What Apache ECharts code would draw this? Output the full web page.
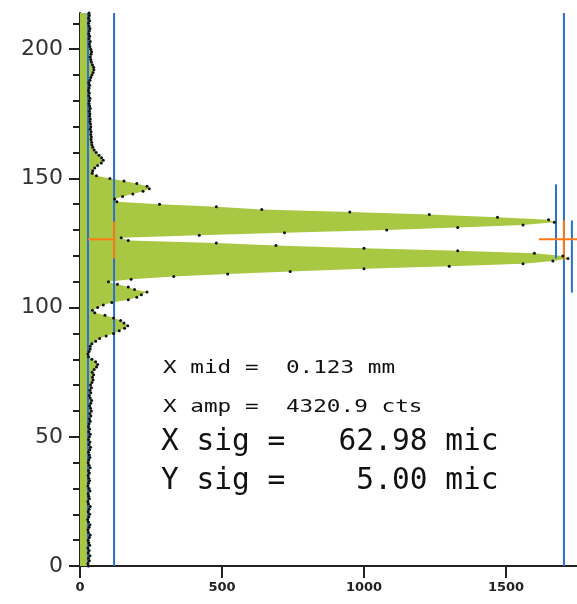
<!DOCTYPE html>
<html><head><meta charset="utf-8">
<script src="https://cdn.jsdelivr.net/npm/echarts@6/dist/echarts.min.js"></script>
<style>html,body{margin:0;padding:0;background:#fff}#c{width:577px;height:604px}</style>
</head><body><div id="c"></div>
<script>
// sample positions (y) of the profile
const profileY = [0,1,2,3,4,5,6,7,8,9,10,11,12,13,14,15,16,17,18,19,20,21,22,23,24,25,26,27,28,29,30,31,32,33,34,35,36,37,38,39,40,41,42,43,44,45,46,47,48,49,50,51,52,53,54,55,56,57,58,59,60,61,62,63,64,65,66,67,68,69,70,71,72,73,74,75,76,77,78,79,80,81,82,83,84,85,86,87,88,89,90,91,92,93,94,95,96,97,98,99,100,101,102,103,104,105,106,107,108,109,110,111,112,113,114,115,116,117,118,119,120,121,122,123,124,125,126,127,128,129,130,131,132,133,134,135,136,137,138,139,140,141,142,143,144,145,146,147,148,149,150,151,152,153,154,155,156,157,158,159,160,161,162,163,164,165,166,167,168,169,170,171,172,173,174,175,176,177,178,179,180,181,182,183,184,185,186,187,188,189,190,191,192,193,194,195,196,197,198,199,200,201,202,203,204,205,206,207,208,209,210,211,212,213,214];
// profile counts at each sample
const profileX = [
 30,28,33,30,35,29,32,28,34,31,
 29,33,36,30,28,32,35,30,27,31,
 34,29,32,36,30,28,33,31,29,35,
 32,28,30,34,31,29,33,30,36,32,
 29,31,35,33,30,34,37,32,35,30,
 33,36,31,34,30,32,36,33,38,35,
 40,37,34,38,41,36,33,38,35,40,
 37,42,46,44,48,43,50,58,62,55,
 42,30,28,32,36,36,42,55,69,92,
 118,138,157,168,155,143,118,88,52,44,
 62,82,112,170,200,216,236,192,170,132,
 100,180,330,520,740,1000,1300,1560,1665,1718,
 1700,1600,1330,1000,690,480,170,145,420,720,
 1080,1330,1560,1670,1650,1470,1230,950,640,480,
 280,130,122,150,186,222,244,236,200,155,
 105,58,43,45,52,62,75,82,76,67,
 57,50,45,42,41,39,40,38,39,36,
 38,37,35,36,34,35,33,36,34,32,
 33,35,31,33,30,32,34,31,35,38,
 42,46,49,48,44,40,38,36,39,41,
 38,35,33,36,32,34,31,33,35,32,
 30,34,31,33,32
];
const xTicks = [0, 500, 1000, 1500];
const yTicks = [0, 50, 100, 150, 200];
const blueFullX = [28, 120, 1704];
const blueBars = [[1676, 119, 147.7], [1732, 105.8, 133.7]];   // x, y0, y1
const orangeH = [[28, 120, 126.4], [1616, 1760, 126.4]];      // x0, x1, y
const orangeV = [[120, 119, 133.3], [1704, 118.6, 133.7]];    // x, y0, y1
const statLines = ['X mid =  0.123 mm', 'X amp =  4320.9 cts', 'X sig =   62.98 mic', 'Y sig =    5.00 mic'];

const BLUE = '#2A6ED2', ORANGE = '#FF7A14', GREEN = '#A8C844', AX = '#222';
const seg = (pts, color) => ({type:'line', yAxisIndex:1, data:pts, symbol:'none', silent:true,
  lineStyle:{color:color, width:2}, animation:false});
const series = [{
  type:'line', yAxisIndex:0, data: profileX, symbol:'circle', symbolSize:3, showAllSymbol:true,
  itemStyle:{color:'#111'}, lineStyle:{width:0, opacity:0},
  areaStyle:{color:GREEN, opacity:1}, silent:true, animation:false
}];
blueFullX.forEach(x => series.push(seg([[x,0],[x,214]], BLUE)));
blueBars.forEach(b => series.push(seg([[b[0],b[1]],[b[0],b[2]]], BLUE)));
orangeH.forEach(h => series.push(seg([[h[0],h[2]],[h[1],h[2]]], ORANGE)));
orangeV.forEach(v => series.push(seg([[v[0],v[1]],[v[0],v[2]]], ORANGE)));

const textY = [368, 407, 442, 481];
const chart = echarts.init(document.getElementById('c'), null, {renderer:'canvas'});
chart.setOption({
  animation:false,
  backgroundColor:'#fff',
  grid:{left:80, right:0, top:13, bottom:38, containLabel:false},
  xAxis:{type:'value', min:0, max:1750, interval:500,
    axisLine:{show:true, onZero:false, lineStyle:{color:AX, width:2}},
    axisTick:{show:true, length:12, customValues:xTicks, lineStyle:{color:AX, width:2}},
    axisLabel:{customValues:xTicks, formatter: v => String(v), fontFamily:'DejaVu Sans', fontWeight:'bold', fontSize:13, color:AX, margin:15},
    splitLine:{show:false}},
  yAxis:[
    {type:'category', data: profileY, boundaryGap:false, show:false},
    {type:'value', min:0, max:214, interval:50, position:'left',
     axisLine:{show:true, onZero:false, lineStyle:{color:AX, width:2}},
     axisTick:{show:true, length:11, customValues:yTicks, lineStyle:{color:AX, width:2}},
     minorTick:{show:true, splitNumber:5, length:7, lineStyle:{color:AX, width:2}},
     axisLabel:{customValues:yTicks, formatter: v => String(v), fontFamily:'DejaVu Sans', fontSize:22, color:'#333', margin:17},
     splitLine:{show:false}, minorSplitLine:{show:false}}
  ],
  series: series,
  graphic: statLines.map((t, i) => ({
    type:'text', x: i < 2 ? 163 : 161, y: textY[i], scaleX: i < 2 ? 1.26 : 1, z:100,
    style:{text:t, fontFamily:'DejaVu Sans Mono', fontSize: i < 2 ? 18 : 29.5, fill:'#111', verticalAlign:'middle'}
  }))
});
</script></body></html>
